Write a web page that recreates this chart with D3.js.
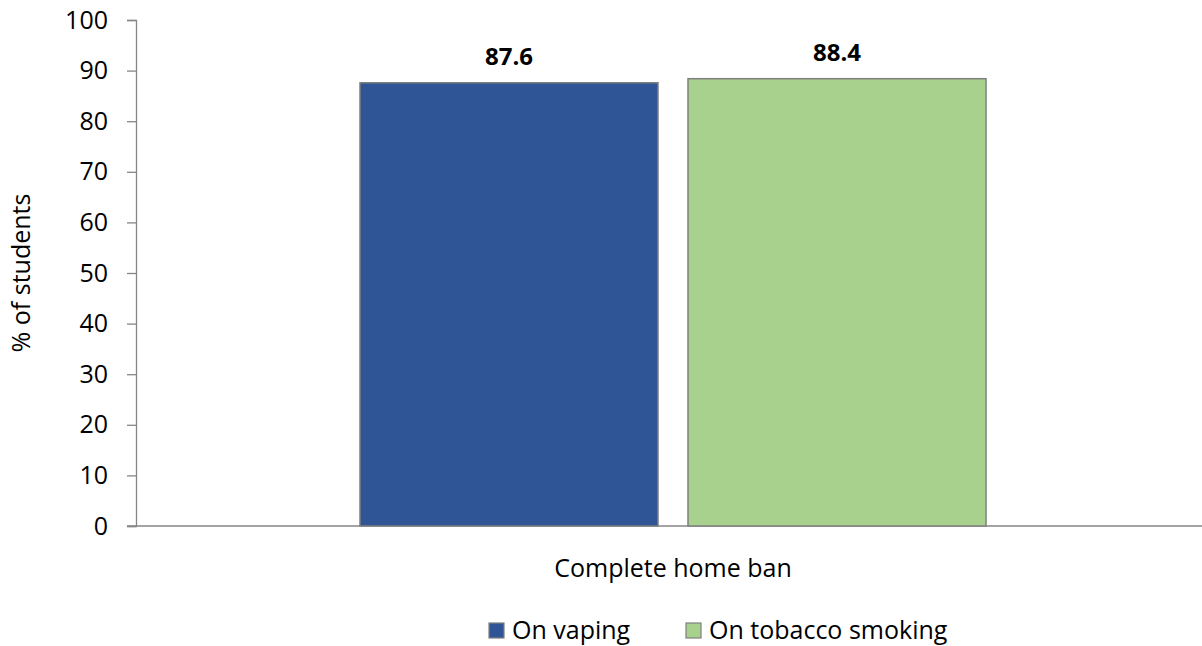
<!DOCTYPE html>
<html><head><meta charset="utf-8">
<script src="https://cdn.jsdelivr.net/npm/d3@7"></script>
<style>body{margin:0;background:#fff}svg{display:block;font-family:"Open Sans",sans-serif}</style>
</head><body><svg id="c" width="1202" height="646"></svg>
<script>
const categories = ["Complete home ban"];
const seriesNames = ["On vaping", "On tobacco smoking"];
const vaping = [87.6];
const smoking = [88.4];
const yTicks = [0,10,20,30,40,50,60,70,80,90,100];
const colors = ["#2F5597", "#A9D18E"];

(function(){
const svg = d3.select("#c");
const mLeft = 136, mRight = 1210, mTop = 20, mBottom = 526;
const y = d3.scaleLinear().domain([0,100]).range([mBottom, mTop]);
const x0 = d3.scaleBand().domain(categories).range([mLeft, mRight]).paddingInner(0).paddingOuter(0.3578);
const x1 = d3.scaleBand().domain(seriesNames).range([0, x0.bandwidth()]).paddingInner(30/328).paddingOuter(0);
const series = [vaping, smoking];

const yAxis = d3.axisLeft(y).tickValues(yTicks).tickSize(9).tickPadding(19).tickFormat(d3.format("d"));
const gy = svg.append("g").attr("transform", `translate(${mLeft},0)`).call(yAxis);
gy.select(".domain").attr("stroke", "#868686").attr("stroke-width", 1.3);
gy.selectAll(".tick line").attr("stroke", "#868686").attr("stroke-width", 1.3);
gy.selectAll(".tick text").attr("font-size", 25).attr("fill", "#000").attr("font-family", "Open Sans");

svg.append("line").attr("x1", mLeft - 9).attr("x2", 1202).attr("y1", y(0)).attr("y2", y(0))
  .attr("stroke", "#868686").attr("stroke-width", 1.3);

categories.forEach((c, i) => {
  seriesNames.forEach((s, j) => {
    const v = series[j][i];
    const bx = x0(c) + x1(s);
    svg.append("rect").attr("x", bx).attr("y", y(v)).attr("width", x1.bandwidth()).attr("height", y(0) - y(v))
      .attr("fill", colors[j]).attr("stroke", "#7f7f7f").attr("stroke-width", 1.5);
    svg.append("text").attr("x", bx + x1.bandwidth()/2).attr("y", y(v) - 18)
      .attr("text-anchor", "middle").attr("font-size", 24).attr("font-weight", "bold").text(v.toFixed(1));
  });
  svg.append("text").attr("x", x0(c) + x0.bandwidth()/2).attr("y", 577).attr("text-anchor", "middle")
    .attr("font-size", 25).text(c);
});

svg.append("text").attr("transform", `translate(30,${(mTop+mBottom)/2}) rotate(-90)`).attr("text-anchor", "middle")
  .attr("font-size", 25).text("% of students");

const legX = [489, 686];
seriesNames.forEach((s, j) => {
  svg.append("rect").attr("x", legX[j]).attr("y", 623).attr("width", 15).attr("height", 15)
    .attr("fill", colors[j]).attr("stroke", "#7f7f7f").attr("stroke-width", 1.2);
  svg.append("text").attr("x", legX[j] + 23).attr("y", 639).attr("font-size", 25).text(s);
});
})();
</script></body></html>
